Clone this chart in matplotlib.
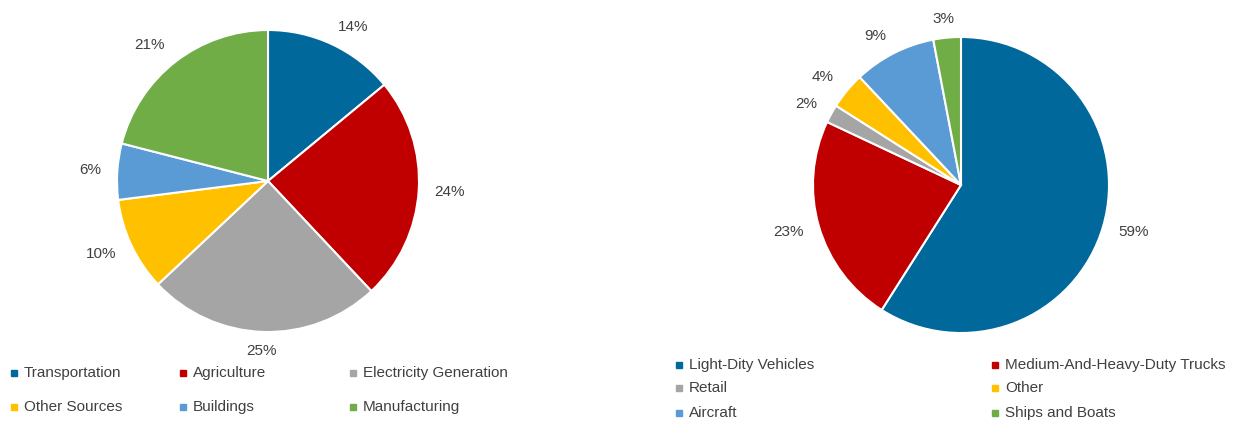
from matplotlib import pyplot as plt
from matplotlib.lines import Line2D
import numpy as np

plt.rcParams['font.family'] = ['Liberation Sans', 'DejaVu Sans']

# %%
# left pie - emission sources
source_labels = ['Transportation', 'Agriculture', 'Electricity Generation',
                 'Other Sources', 'Buildings', 'Manufacturing']
source_share = [14, 24, 25, 10, 6, 21]

# right pie - transportation breakdown
transport_labels = ['Light-Dity Vehicles', 'Medium-And-Heavy-Duty Trucks', 'Retail',
                    'Other', 'Aircraft', 'Ships and Boats']
transport_share = [59, 23, 2, 4, 9, 3]

colors = ['#00689A', '#C00000', '#A5A5A5', '#FFC000', '#5B9BD5', '#70AD47']
text_col = '#404040'
fsize = 11

W, H = 1240, 423
fig = plt.figure(figsize=(W / 100, H / 100), dpi=100)
renderer = fig.canvas.get_renderer()


def pie_axes(cx, cy, r):
    # place a square axes by pixel center / radius
    return fig.add_axes([(cx - r) / W, (H - cy - r) / H, 2 * r / W, 2 * r / H])


def draw_pie(ax, values, r_px, gap=13):
    wedges, _, pcts = ax.pie(values, colors=colors, startangle=90, counterclock=False,
                             autopct=lambda p: '%d%%' % round(p), pctdistance=1.2,
                             wedgeprops=dict(edgecolor='white', linewidth=1.5),
                             textprops=dict(color=text_col, fontsize=fsize))
    ax.set_xlim(-1, 1)
    ax.set_ylim(-1, 1)
    ax.set_aspect('equal')
    # excel style "outside end": label box sits just off the rim
    for w, t in zip(wedges, pcts):
        ang = np.deg2rad((w.theta1 + w.theta2) / 2)
        c, s = np.cos(ang), np.sin(ang)
        bb = t.get_window_extent(renderer)
        hw, hh = bb.width / 2 + 3, bb.height / 2 * 0.85
        ox = np.clip(2 * c, -1, 1) * hw
        oy = np.clip(1.3 * s, -1, 1) * hh
        t.set_position((((r_px + gap) * c + ox) / r_px, ((r_px + gap) * s + oy) / r_px))


def draw_legend(labels, col_x, row_y):
    # row-major legend, positions in pixels
    ncol = len(col_x)
    for i, lab in enumerate(labels):
        x = col_x[i % ncol]
        y = row_y[i // ncol]
        fig.add_artist(Line2D([x / W], [1 - y / H], marker='s', markersize=4,
                              color=colors[i], linestyle='none',
                              transform=fig.transFigure))
        fig.text((x + 10) / W, 1 - y / H, lab, color=text_col, fontsize=fsize,
                 va='center', ha='left')


# %%
ax1 = pie_axes(268, 181, 151)
draw_pie(ax1, source_share, 151)
draw_legend(source_labels, [14, 183, 353], [373, 407])

ax2 = pie_axes(961, 185, 148)
draw_pie(ax2, transport_share, 148)
draw_legend(transport_labels, [679, 995], [365, 388, 413])

fig.savefig('out.png', dpi=100)
